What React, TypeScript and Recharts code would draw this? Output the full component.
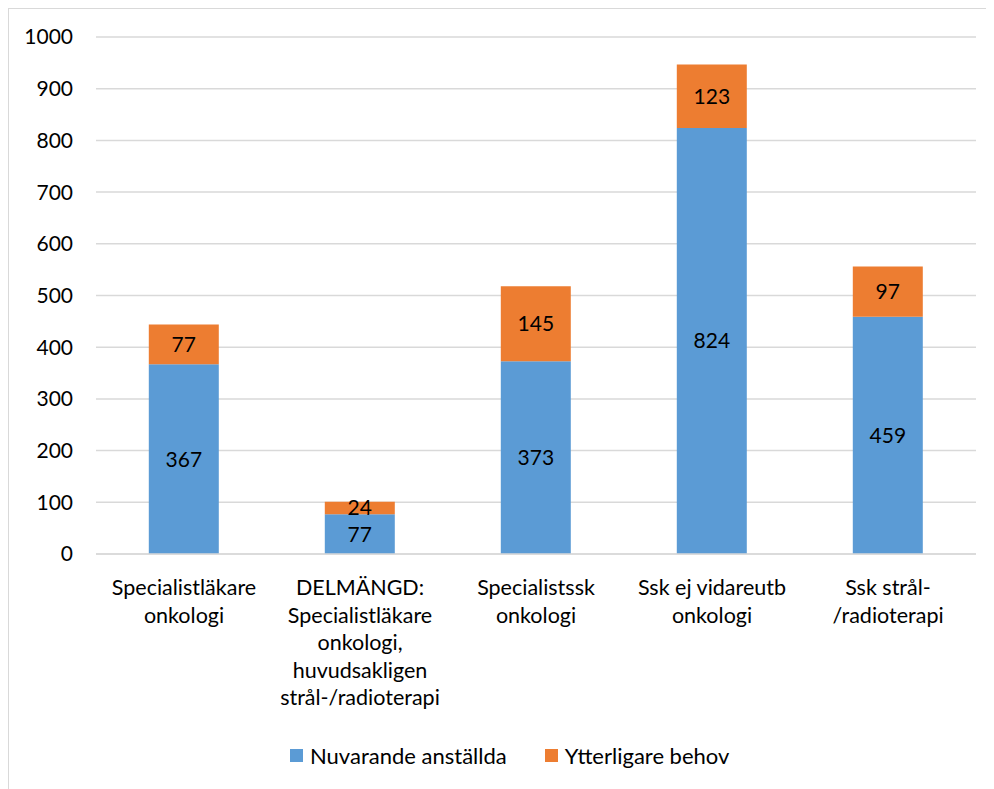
import React from "react";
import { BarChart, Bar, XAxis, YAxis, CartesianGrid, LabelList, Legend } from "recharts";

// Category labels, one entry per line of the axis label
const categories: string[][] = [
  ["Specialistläkare", "onkologi"],
  ["DELMÄNGD:", "Specialistläkare", "onkologi,", "huvudsakligen", "strål-/radioterapi"],
  ["Specialistssk", "onkologi"],
  ["Ssk ej vidareutb", "onkologi"],
  ["Ssk strål-", "/radioterapi"],
];

const nuvarande: number[] = [367, 77, 373, 824, 459];
const ytterligare: number[] = [77, 24, 145, 123, 97];

const yTicks: number[] = [0, 100, 200, 300, 400, 500, 600, 700, 800, 900, 1000];

const seriesNames = { current: "Nuvarande anställda", extra: "Ytterligare behov" };
const BLUE = "#5B9BD5";
const ORANGE = "#ED7D31";
const FONT = "Lato, 'Open Sans', sans-serif";
const FS = 21;

const data = categories.map((lines, i) => ({
  name: lines.join(" "),
  lines,
  current: nuvarande[i],
  extra: ytterligare[i],
}));

const CategoryTick = (props: any) => {
  const { x, y, index } = props;
  const lines: string[] = data[index]?.lines ?? [];
  return (
    <text x={x} y={y + 41} textAnchor="middle" fill="#000" fontSize={FS + 0.5} fontFamily={FONT}>
      {lines.map((l, i) => (
        <tspan key={i} x={x} dy={i === 0 ? 0 : 27.5}>
          {l}
        </tspan>
      ))}
    </text>
  );
};

const LegendContent = () => (
  <div style={{ display: "flex", alignItems: "center", fontFamily: FONT, fontSize: 22, color: "#000", whiteSpace: "nowrap" }}>
    <span style={{ width: 13, height: 13, background: BLUE, display: "inline-block", marginRight: 7 }} />
    <span style={{ marginRight: 38 }}>{seriesNames.current}</span>
    <span style={{ width: 13, height: 13, background: ORANGE, display: "inline-block", marginRight: 7 }} />
    <span>{seriesNames.extra}</span>
  </div>
);

export default function App() {
  return (
    <div style={{ width: 986, height: 790, border: "1px solid #d9d9d9", boxSizing: "border-box", position: "relative" }}>
      <BarChart
        width={984}
        height={779}
        data={data}
        margin={{ top: 28, right: 17, left: 0, bottom: 0 }}
        barCategoryGap="30%"
      >
        <CartesianGrid vertical={false} stroke="#d9d9d9" strokeWidth={1.5} />
        <XAxis
          dataKey="name"
          height={206}
          tickLine={false}
          tickSize={0}
          tickMargin={0}
          axisLine={{ stroke: "#d9d9d9", strokeWidth: 1.5 }}
          tick={<CategoryTick />}
          interval={0}
        />
        <YAxis
          width={87}
          domain={[0, 1000]}
          ticks={yTicks}
          axisLine={false}
          tickLine={false}
          tickSize={0}
          tickMargin={23}
          tick={{ fill: "#000", fontSize: FS, fontFamily: FONT }}
        />
        <Legend
          verticalAlign="bottom"
          content={<LegendContent />}
          wrapperStyle={{ position: "absolute", left: 281, top: 733, width: "auto", height: 28 }}
        />
        <Bar dataKey="current" name={seriesNames.current} stackId="a" fill={BLUE} isAnimationActive={false}>
          <LabelList dataKey="current" position="center" fill="#000" fontSize={FS} fontFamily={FONT} />
        </Bar>
        <Bar dataKey="extra" name={seriesNames.extra} stackId="a" fill={ORANGE} isAnimationActive={false}>
          <LabelList dataKey="extra" position="center" fill="#000" fontSize={FS} fontFamily={FONT} />
        </Bar>
      </BarChart>
    </div>
  );
}
